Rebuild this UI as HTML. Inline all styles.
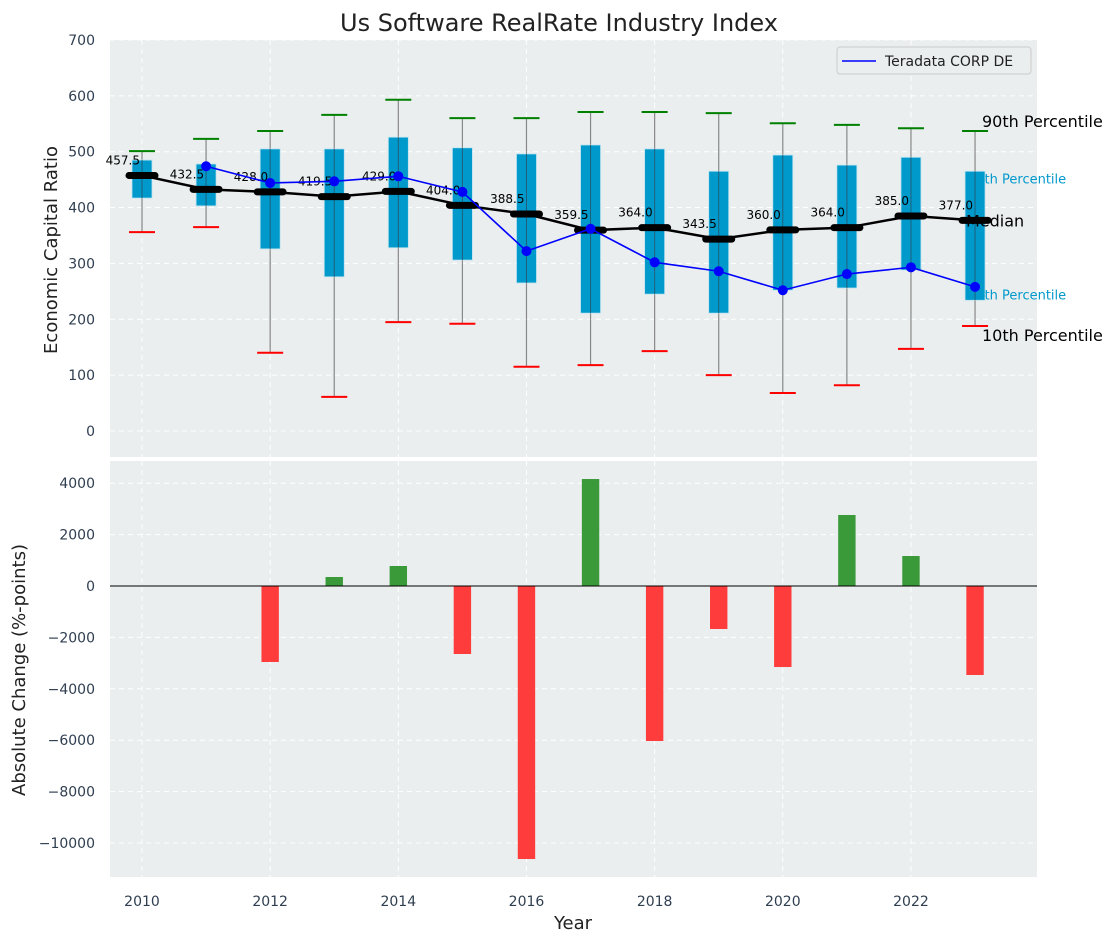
<!DOCTYPE html>
<html><head><meta charset="utf-8"><style>
body{margin:0;background:#fff;}
svg text{font-family:"DejaVu Sans","Liberation Sans",sans-serif;}
</style></head><body>
<svg id="c" width="1117" height="942" xmlns="http://www.w3.org/2000/svg"></svg>
<script>
const years=[2010,2011,2012,2013,2014,2015,2016,2017,2018,2019,2020,2021,2022,2023];
const medians=[457.5,432.5,428.0,419.5,429.0,404.0,388.5,359.5,364.0,343.5,360.0,364.0,385.0,377.0];
const q1=[417,403,326,276,328,306,265,211,245,211,252,256,288,234];
const q3=[485,478,505,505,526,507,496,512,505,465,494,476,490,465];
const p10=[356,365,140,61,195,192,115,118,143,100,68,82,147,188];
const p90=[501,523,537,566,593,560,560,571,571,569,551,548,542,537];
const companyYears=[2011,2012,2013,2014,2015,2016,2017,2018,2019,2020,2021,2022,2023];
const companyVals=[474,444,447,456,428,322,362,302,286,252,281,293,258];
const changeYears=[2012,2013,2014,2015,2016,2017,2018,2019,2020,2021,2022,2023];
const changeVals=[-2957,350,778,-2646,-10623,4163,-6031,-1673,-3152,2763,1167,-3463];
const topTicks=[0,100,200,300,400,500,600,700];
const botTicks=[-10000,-8000,-6000,-4000,-2000,0,2000,4000];
const xTicks=[2010,2012,2014,2016,2018,2020,2022];

const NS="http://www.w3.org/2000/svg";
const svg=document.getElementById('c');
function el(t,a,p){const e=document.createElementNS(NS,t);for(const k in a)e.setAttribute(k,a[k]);(p||svg).appendChild(e);return e;}
const X=v=>142+(v-2010)*64.08;
const Yt=v=>431-v*0.5586;
const Yb=v=>586-v*0.0257;
const L=110,R=1037;
let p1=el('rect',{x:L,y:40,width:R-L,height:417,fill:'#eaeeee'});


let p2=el('rect',{x:L,y:461,width:R-L,height:416,fill:'#eaeeee'});


const dash={stroke:'#fff','stroke-dasharray':'5,4','stroke-width':1};
xTicks.forEach(v=>{
  el('line',Object.assign({x1:X(v),x2:X(v),y1:40,y2:457},dash));
  el('line',Object.assign({x1:X(v),x2:X(v),y1:461,y2:877},dash));
  let t=el('text',{x:X(v),y:906,'text-anchor':'middle','font-size':14,fill:'#2f3e50'});t.textContent=v;
  
  
});
topTicks.forEach(v=>{
  el('line',Object.assign({x1:L,x2:R,y1:Yt(v),y2:Yt(v)},dash));
  let t=el('text',{x:95,y:Yt(v)+5,'text-anchor':'end','font-size':14,fill:'#2f3e50'});t.textContent=v;
  
  
});
botTicks.forEach(v=>{
  el('line',Object.assign({x1:L,x2:R,y1:Yb(v),y2:Yb(v)},dash));
  let t=el('text',{x:95,y:Yb(v)+5,'text-anchor':'end','font-size':14,fill:'#2f3e50'});t.textContent=(v<0?'\u2212'+(-v):v);
  
  
});
const last=years.length-1;
// right labels (behind boxes)
[['90th Percentile',Yt(p90[last])-4,'#000',16,982],['75th Percentile',Yt(q3[last])+12,'#0099cc',13,968],['25th Percentile',Yt(q1[last])-1,'#0099cc',13,968],['10th Percentile',Yt(p10[last])+15,'#000',16,982]].forEach(a=>{
  let t=el('text',{x:a[4],y:a[1],'font-size':a[3],fill:a[2]});t.textContent=a[0];
  
  
});
years.forEach((y,i)=>{
  const x=X(y);
  let w=el('line',{x1:x,x2:x,y1:Yt(p90[i]),y2:Yt(p10[i]),stroke:'#888','stroke-width':1.2});
  
  
  let b=el('rect',{x:x-10,y:Yt(q3[i]),width:20,height:Yt(q1[i])-Yt(q3[i]),fill:'#0099cc',stroke:'#bfe3f0','stroke-width':0.8});
  
  
  el('line',{x1:x,x2:x,y1:Yt(q3[i]),y2:Yt(q1[i]),stroke:'#1e5f7a','stroke-width':1});
  let g=el('line',{x1:x-13,x2:x+13,y1:Yt(p90[i]),y2:Yt(p90[i]),stroke:'green','stroke-width':2});
  
  
  let r=el('line',{x1:x-13,x2:x+13,y1:Yt(p10[i]),y2:Yt(p10[i]),stroke:'red','stroke-width':2});
  
  
});
let ml=el('polyline',{points:years.map((y,i)=>X(y)+','+Yt(medians[i])).join(' '),fill:'none',stroke:'#000','stroke-width':2.5});


years.forEach((y,i)=>{
  let m=el('line',{x1:X(y)-13,x2:X(y)+13,y1:Yt(medians[i]),y2:Yt(medians[i]),stroke:'#000','stroke-width':7,'stroke-linecap':'round'});
  
  
  let t=el('text',{x:X(y)-2,y:Yt(medians[i])-11,'text-anchor':'end','font-size':12,fill:'#000'});t.textContent=medians[i].toFixed(1);
  
  
});
let cl=el('polyline',{points:companyYears.map((y,i)=>X(y)+','+Yt(companyVals[i])).join(' '),fill:'none',stroke:'#0000ff','stroke-width':1.6});


companyYears.forEach((y,i)=>{
  let c=el('circle',{cx:X(y),cy:Yt(companyVals[i]),r:5,fill:'#0000ff'});
  
  
});
let mt=el('text',{x:966,y:Yt(medians[last])+6,'font-size':16,fill:'#000'});mt.textContent='Median';


let lg=el('g',{});


el('rect',{x:837,y:47,width:194,height:27,fill:'#eaeeee',stroke:'#ccc',rx:3},lg);
el('line',{x1:842,x2:876,y1:61,y2:61,stroke:'#0000ff','stroke-width':1.6},lg);
let lt=el('text',{x:885,y:66,'font-size':14,fill:'#222'},lg);lt.textContent='Teradata CORP DE';
changeYears.forEach((y,i)=>{
  const v=changeVals[i];
  let b=el('rect',{x:X(y)-8.7,y:Math.min(Yb(v),Yb(0)),width:17.4,height:Math.abs(Yb(v)-Yb(0)),fill:v>=0?'#3a9a3a':'#ff3c3c'});
  
  
});
el('line',{x1:L,x2:R,y1:Yb(0),y2:Yb(0),stroke:'#000','stroke-width':1});
let tt=el('text',{x:559,y:31,'text-anchor':'middle','font-size':24,fill:'#222'});tt.textContent='Us Software RealRate Industry Index';


let yt=el('text',{x:0,y:0,'text-anchor':'middle','font-size':18,fill:'#222',transform:'translate(57,250) rotate(-90)'});yt.textContent='Economic Capital Ratio';


let yb=el('text',{x:0,y:0,'text-anchor':'middle','font-size':18,fill:'#222',transform:'translate(25,670) rotate(-90)'});yb.textContent='Absolute Change (%-points)';


let xt=el('text',{x:573,y:929,'text-anchor':'middle','font-size':18,fill:'#222'});xt.textContent='Year';


</script>
</body></html>
